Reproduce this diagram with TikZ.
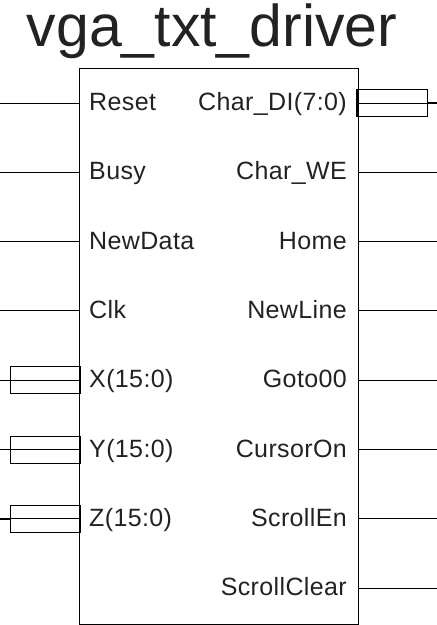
\documentclass[tikz,border=0pt]{standalone}
\usepackage{fontspec}
\setmainfont{Liberation Sans}
\definecolor{txt}{HTML}{222222}
\begin{document}
\begin{tikzpicture}[x=1pt,y=-1pt,
  lbl/.style={font=\fontsize{25}{25}\selectfont\addfontfeature{LetterSpace=1.5}, text=txt, inner sep=0pt},
  wire/.style={draw=black, line width=0.9pt},
  stub/.style={draw=black, line width=1.4pt},
  busbox/.style={draw=black, line width=0.8pt, minimum width=70pt, minimum height=27pt, inner sep=0pt},
  buswall/.style={draw=black, line width=2pt}]
\useasboundingbox (0,0) rectangle (437,625);
% title
\node[anchor=base west, font=\fontsize{59}{59}\selectfont, text=txt, inner sep=0pt] (title) at (26.5,46) {vga\_txt\_driver};
% main box
\node[draw=black, line width=1pt, minimum width=279pt, minimum height=556pt, inner sep=0pt] (box) at (218.5,346) {};
% left plain inputs
\foreach \n/\t/\y in {Reset/Reset/103, Busy/Busy/172.3, NewData/NewData/241.6, Clk/Clk/310.9}{
  \node[lbl, anchor=base west] (l\n) at (89,\y+7.5) {\t};
  \coordinate (i\n) at (0,\y);
  \draw[wire] (i\n) -- (i\n -| box.west);
}
% left bus inputs
\foreach \n/\t/\y in {X/X(15:0)/380.2, Y/Y(15:0)/449.5, Z/Z(15:0)/518.8}{
  \node[lbl, anchor=base west] (l\n) at (89,\y+7.5) {\t};
  \coordinate (i\n) at (0,\y);
  \node[busbox] (b\n) at (45,\y) {};
  \draw[stub] (i\n) -- (b\n.west);
  \draw[wire] (b\n.west) -- (b\n.east);
  \draw[buswall] (b\n.north east) -- (b\n.south east);
}
% right bus output
\node[lbl, anchor=base east] (rDI) at (347,103+7.5) {Char\_DI(7:0)};
\node[busbox] (bDI) at (392.5,103) {};
\coordinate (oDI) at (437,103);
\draw[buswall] (bDI.north west) -- (bDI.south west);
\draw[wire] (bDI.west) -- (bDI.east);
\draw[stub] (bDI.east) -- (oDI);
% right plain outputs
\foreach \n/\t/\y in {WE/Char\_WE/172.3, Home/Home/241.6, NewLine/NewLine/310.9, Goto/Goto00/380.2, Cursor/CursorOn/449.5, SEn/ScrollEn/518.8, SClr/ScrollClear/588.1}{
  \node[lbl, anchor=base east] (r\n) at (347,\y+7.5) {\t};
  \coordinate (o\n) at (437,\y);
  \draw[wire] (o\n -| box.east) -- (o\n);
}
\end{tikzpicture}
\end{document}
